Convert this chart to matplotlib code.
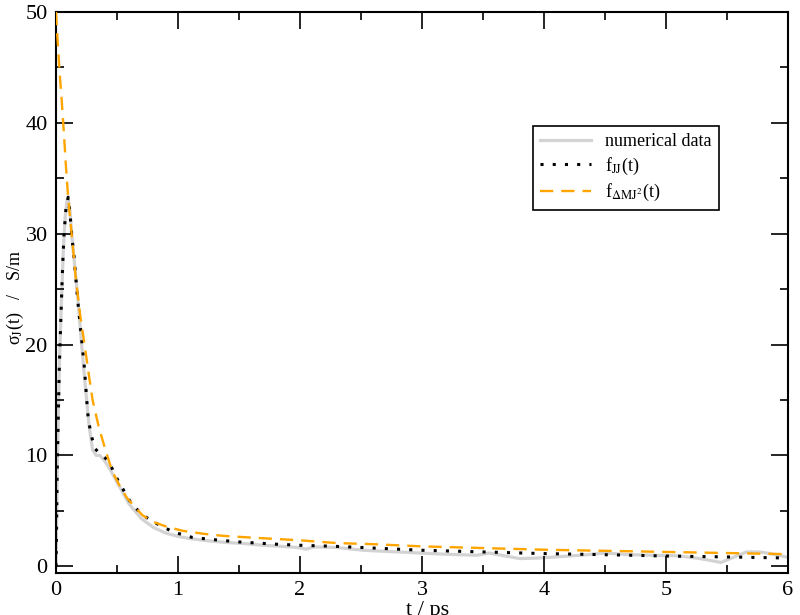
import matplotlib
matplotlib.use("Agg")
import matplotlib.pyplot as plt
from matplotlib.ticker import MultipleLocator

plt.rcParams['font.family'] = ['Liberation Serif', 'DejaVu Serif']
plt.rcParams['mathtext.fontset'] = 'stix'

# numerical data
t_num = [0, 0.005, 0.011, 0.02, 0.03, 0.045, 0.06, 0.075, 0.09, 0.1, 0.115, 0.13, 0.15,
         0.18, 0.21, 0.24, 0.27, 0.3, 0.33, 0.36, 0.4, 0.45, 0.5, 0.6, 0.7, 0.8, 0.9,
         1.0, 1.1, 1.25, 1.4, 1.55, 1.7, 1.85, 1.98, 2.05, 2.11, 2.3, 2.52, 2.7, 2.9,
         3.07, 3.3, 3.45, 3.55, 3.65, 3.8, 3.95, 4.1, 4.3, 4.5, 4.7, 4.9, 5.1, 5.28,
         5.45, 5.55, 5.66, 5.77, 5.88, 6.0]
v_num = [0, 4, 9, 14, 19, 24, 28.5, 31.5, 33, 33.2, 32, 29.8, 27.5,
         24, 20, 16.3, 12.8, 10.5, 10.0, 10.0, 9.5, 8.6, 7.6, 5.6, 4.3, 3.5, 3.0,
         2.7, 2.5, 2.3, 2.15, 2.05, 1.9, 1.8, 1.7, 1.55, 1.75, 1.7, 1.45, 1.35, 1.25,
         1.15, 1.05, 1.0, 1.2, 1.0, 0.7, 0.75, 0.85, 1.0, 1.2, 1.05, 1.0, 0.95, 0.7,
         0.35, 0.8, 1.3, 1.3, 1.1, 0.8]

# f_JJ(t)
t_jj = [0, 0.004, 0.008, 0.011, 0.019, 0.027, 0.041, 0.055, 0.066, 0.082, 0.1, 0.115,
        0.128, 0.148, 0.164, 0.178, 0.197, 0.216, 0.232, 0.246, 0.26, 0.284, 0.32, 0.36,
        0.43, 0.51, 0.61, 0.7, 0.8, 0.96, 1.12, 1.3, 1.5, 1.8, 2.0, 2.3, 2.6, 3.0, 3.5,
        4.0, 4.5, 5.0, 5.5, 6.0]
v_jj = [0, 3, 7, 9.3, 13.8, 17.9, 22.8, 27.3, 30, 32.3, 33.3, 31.8,
        30.0, 27.9, 25.8, 24.0, 21.9, 19.8, 18.0, 15.9, 13.8, 12.0, 10.6, 10.2,
        9.5, 7.7, 5.8, 4.7, 4.0, 3.1, 2.6, 2.4, 2.2, 2.0, 1.9, 1.8, 1.65, 1.45, 1.3,
        1.15, 1.05, 0.93, 0.85, 0.75]

# f_dMJ2(t)
t_mj = [0, 0.01, 0.03, 0.047, 0.065, 0.082, 0.1, 0.128, 0.164, 0.2, 0.238, 0.27, 0.30,
        0.35, 0.40, 0.46, 0.52, 0.58, 0.65, 0.71, 0.8, 0.9, 1.04, 1.2, 1.37, 1.59, 2.0,
        2.3, 2.6, 3.0, 3.5, 4.0, 4.5, 5.0, 5.5, 6.0]
v_mj = [50, 48, 44.5, 42, 39, 36, 33.2, 30, 25.8, 22.5, 19.7, 17.2, 15,
        12.6, 10.7, 8.6, 7.3, 6.2, 5.3, 4.6, 4.0, 3.6, 3.2, 2.95, 2.75, 2.6, 2.35,
        2.1, 2.0, 1.8, 1.65, 1.5, 1.4, 1.3, 1.2, 1.1]

labels = ['numerical data', r'f$_{\mathrm{JJ}}$(t)', r'f$_{\Delta\mathrm{MJ}^2}$(t)']

fig = plt.figure(figsize=(8, 6.15), dpi=100)
ax = fig.add_axes([0.07, 0.0683, 0.915, 0.9122])

ax.plot(t_num, v_num, color='#d3d3d3', lw=2.3, label=labels[0], zorder=1)
ax.plot(t_jj, v_jj, color='black', lw=2.2, linestyle=(0, (1, 3)), label=labels[1], zorder=2)
ax.plot(t_mj, v_mj, color='#ffa500', lw=1.7, linestyle=(0, (5.6, 3.4)), label=labels[2], zorder=3)

ax.set_xlim(0, 6)
ax.set_ylim(-0.6, 50)
ax.xaxis.set_major_locator(MultipleLocator(1))
ax.xaxis.set_minor_locator(MultipleLocator(0.5))
ax.yaxis.set_major_locator(MultipleLocator(10))
ax.yaxis.set_minor_locator(MultipleLocator(5))
ax.tick_params(which='both', direction='in', top=True, right=True, width=1.2, labelsize=16)
ax.tick_params(which='major', length=12, pad=6)
ax.tick_params(which='minor', length=6)
for s in ax.spines.values():
    s.set_linewidth(1.5)

ax.set_xlabel('t / ps', fontsize=16)
ax.xaxis.set_label_coords(0.507, -0.05)
ax.xaxis.label.set_verticalalignment('top')

ax.set_ylabel(r'σ$_{\mathrm{J}}$(t)   /   S/m', fontsize=13)
ax.yaxis.set_label_coords(-0.055, 0.492)
ax.yaxis.label.set_verticalalignment('center')

leg = ax.legend(loc='upper left', bbox_to_anchor=(0.652, 0.797), fontsize=13,
                frameon=True, fancybox=False, edgecolor='black', framealpha=1,
                handlelength=2.8, handletextpad=0.8, borderpad=0.4, labelspacing=0.3,
                borderaxespad=0)
leg.get_frame().set_linewidth(1.2)

fig.savefig('out.png', dpi=100)
